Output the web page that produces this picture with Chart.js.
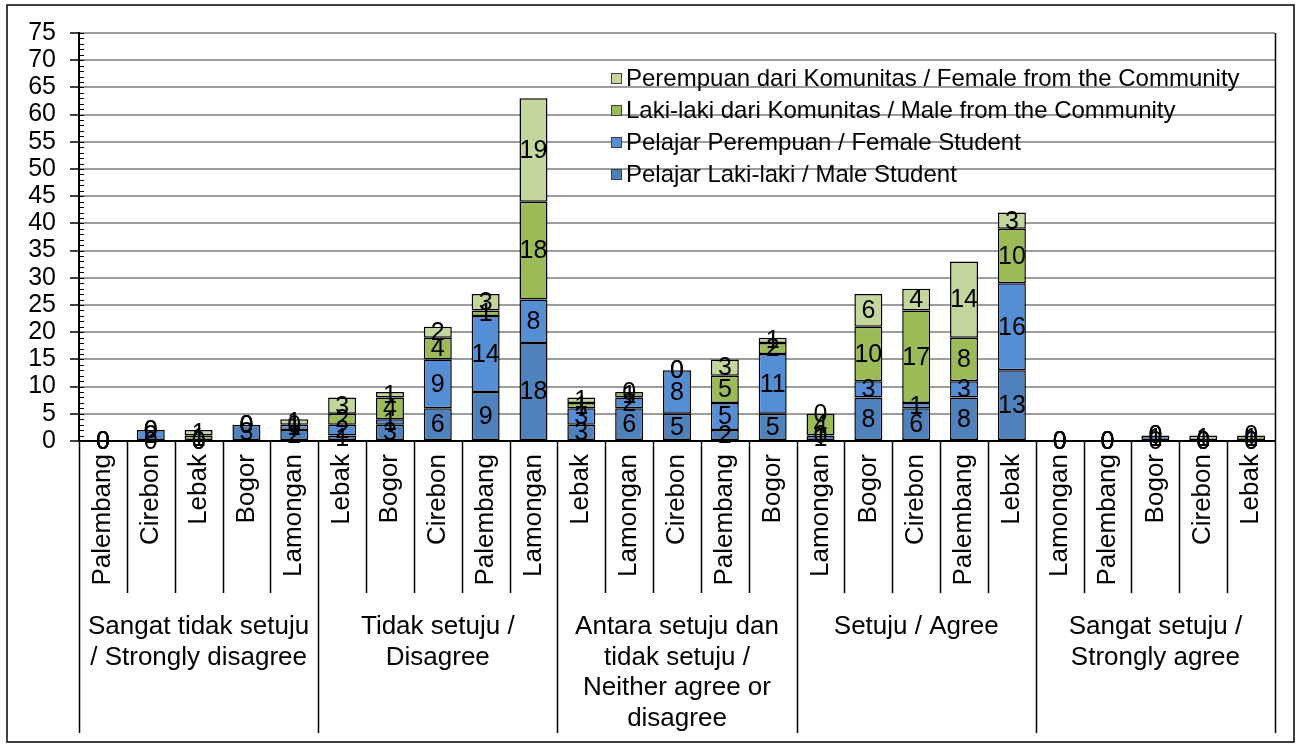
<!DOCTYPE html>
<html>
<head>
<meta charset="utf-8">
<script src="https://cdn.jsdelivr.net/npm/chart.js@4.4.0/dist/chart.umd.min.js"></script>
<style>
  html, body { margin: 0; padding: 0; background: #fff; overflow: hidden; }
  #wrap { position: relative; width: 1305px; height: 746px; }
</style>
</head>
<body>
<div id="wrap"><canvas id="chart"></canvas></div>
<script>
// categories (lower level) and groups (upper level)
const cities = [
    'Palembang', 'Cirebon', 'Lebak', 'Bogor', 'Lamongan',
    'Lebak', 'Bogor', 'Cirebon', 'Palembang', 'Lamongan',
    'Lebak', 'Lamongan', 'Cirebon', 'Palembang', 'Bogor',
    'Lamongan', 'Bogor', 'Cirebon', 'Palembang', 'Lebak',
    'Lamongan', 'Palembang', 'Bogor', 'Cirebon', 'Lebak'
];
const groups = [
    ['Sangat tidak setuju', '/ Strongly disagree'],
    ['Tidak setuju /', 'Disagree'],
    ['Antara setuju dan', 'tidak setuju /', 'Neither agree or', 'disagree'],
    ['Setuju / Agree'],
    ['Sangat setuju /', 'Strongly agree']
];
const citiesPerGroup = 5;

// series values
const maleStudent     = [0, 0, 0, 3, 2,  1, 3, 6, 9, 18,  3, 6, 5, 2, 5,   1, 8, 6, 8, 13,   0, 0, 0, 0, 0];
const femaleStudent   = [0, 2, 0, 0, 1,  2, 1, 9, 14, 8,  3, 2, 8, 5, 11,  0, 3, 1, 3, 16,   0, 0, 1, 0, 0];
const maleCommunity   = [0, 0, 1, 0, 0,  2, 4, 4, 1, 18,  1, 1, 0, 5, 2,   4, 10, 17, 8, 10, 0, 0, 0, 0, 1];
const femaleCommunity = [0, 0, 1, 0, 1,  3, 1, 2, 3, 19,  1, 0, 0, 3, 1,   0, 6, 4, 14, 3,   0, 0, 0, 1, 0];

const seriesNames = [
    'Pelajar Laki-laki / Male Student',
    'Pelajar Perempuan / Female Student',
    'Laki-laki dari Komunitas / Male from the Community',
    'Perempuan dari Komunitas / Female from the Community'
];
const seriesColors = ['#4F81BD', '#558ED5', '#9BBB59', '#C3D69B'];

// y axis
const yMin = 0;
const yMax = 75;
const yStep = 5;

const FONT = '"Liberation Sans", Arial, sans-serif';

const extras = {
    id: 'extras',
    afterDatasetsDraw(chart) {
        const ctx = chart.ctx;
        ctx.save();
        ctx.font = '25px ' + FONT;
        ctx.fillStyle = '#000';
        ctx.textAlign = 'center';
        ctx.textBaseline = 'middle';
        chart.data.datasets.forEach(function(ds, i) {
            const meta = chart.getDatasetMeta(i);
            meta.data.forEach(function(bar, j) {
                const p = bar.getProps(['x', 'y', 'base'], true);
                ctx.fillText(String(ds.data[j]), p.x, (p.y + p.base) / 2 + 1);
            });
        });
        ctx.restore();
    },
    afterDraw(chart) {
        const ctx = chart.ctx;
        const area = chart.chartArea;
        const xs = chart.scales.x;
        const ys = chart.scales.y;
        const step = xs.getPixelForValue(1) - xs.getPixelForValue(0);
        const edge = function(k) { return xs.getPixelForValue(0) - step / 2 + k * step; };
        const cityBottom = 593;
        const groupBottom = 733;

        ctx.save();
        ctx.strokeStyle = '#000';

        // minor ticks on y axis
        ctx.lineWidth = 1;
        ctx.beginPath();
        for (let v = yMin; v <= yMax; v++) {
            const py = Math.round(ys.getPixelForValue(v)) + 0.5;
            ctx.moveTo(area.left, py);
            ctx.lineTo(area.left + 5, py);
        }
        ctx.stroke();

        // separators under the axis
        ctx.lineWidth = 1.5;
        ctx.beginPath();
        for (let k = 0; k <= cities.length; k++) {
            const px = Math.round(edge(k)) + 0.5;
            const isGroupEdge = k % citiesPerGroup === 0;
            ctx.moveTo(px, area.bottom);
            ctx.lineTo(px, isGroupEdge ? groupBottom : cityBottom);
        }
        // right border of the plot
        const rx = Math.round(edge(cities.length)) + 0.5;
        ctx.moveTo(rx, area.top);
        ctx.lineTo(rx, area.bottom);
        ctx.stroke();

        // group labels
        ctx.fillStyle = '#000';
        ctx.font = '26px ' + FONT;
        ctx.textAlign = 'center';
        ctx.textBaseline = 'middle';
        groups.forEach(function(lines, g) {
            const cx = (edge(g * citiesPerGroup) + edge((g + 1) * citiesPerGroup)) / 2;
            lines.forEach(function(line, n) {
                ctx.fillText(line, cx, 627 + n * 30.5);
            });
        });

        // legend (reverse order, inside plot)
        ctx.font = '24px ' + FONT;
        ctx.textAlign = 'left';
        const order = [3, 2, 1, 0];
        order.forEach(function(i, row) {
            const cy = 78 + row * 32;
            ctx.fillStyle = seriesColors[i];
            ctx.fillRect(611, cy - 5, 11, 11);
            ctx.lineWidth = 1;
            ctx.strokeStyle = '#404040';
            ctx.strokeRect(611.5, cy - 4.5, 10, 10);
            ctx.fillStyle = '#000';
            ctx.fillText(chart.data.datasets[i].label, 626, cy + 1);
        });

        // outer frame
        ctx.lineWidth = 1.5;
        ctx.strokeStyle = '#000';
        ctx.strokeRect(7, 5, 1287, 737);
        ctx.restore();
    }
};

const datasets = [maleStudent, femaleStudent, maleCommunity, femaleCommunity].map(function(values, i) {
    return {
        label: seriesNames[i],
        data: values,
        backgroundColor: seriesColors[i],
        borderColor: '#000',
        borderWidth: 1.5,
        borderSkipped: false,
        categoryPercentage: 1,
        barPercentage: 0.585
    };
});

new Chart(document.getElementById('chart'), {
    type: 'bar',
    data: { labels: cities, datasets: datasets },
    options: {
        responsive: true,
        maintainAspectRatio: false,
        animation: false,
        layout: { padding: { left: 0, top: 33, right: 30, bottom: 0 } },
        plugins: {
            legend: { display: false },
            tooltip: { enabled: false }
        },
        scales: {
            x: {
                stacked: true,
                grid: { display: false, drawTicks: false },
                border: { display: true, color: '#000', width: 2 },
                ticks: {
                    autoSkip: false,
                    minRotation: 90,
                    maxRotation: 90,
                    padding: 13,
                    color: '#000',
                    font: { family: FONT, size: 26 }
                },
                afterFit: function(scale) { scale.height = 305; }
            },
            y: {
                stacked: true,
                min: yMin,
                max: yMax,
                ticks: {
                    stepSize: yStep,
                    autoSkip: false,
                    padding: 14,
                    color: '#000',
                    font: { family: FONT, size: 25 }
                },
                grid: { color: '#9c9c9c', lineWidth: 2, tickColor: '#000', tickLength: 9, tickWidth: 1.5 },
                border: { display: true, color: '#000', width: 2 },
                afterFit: function(scale) { scale.width = 79; }
            }
        }
    },
    plugins: [extras]
});
</script>
</body>
</html>
